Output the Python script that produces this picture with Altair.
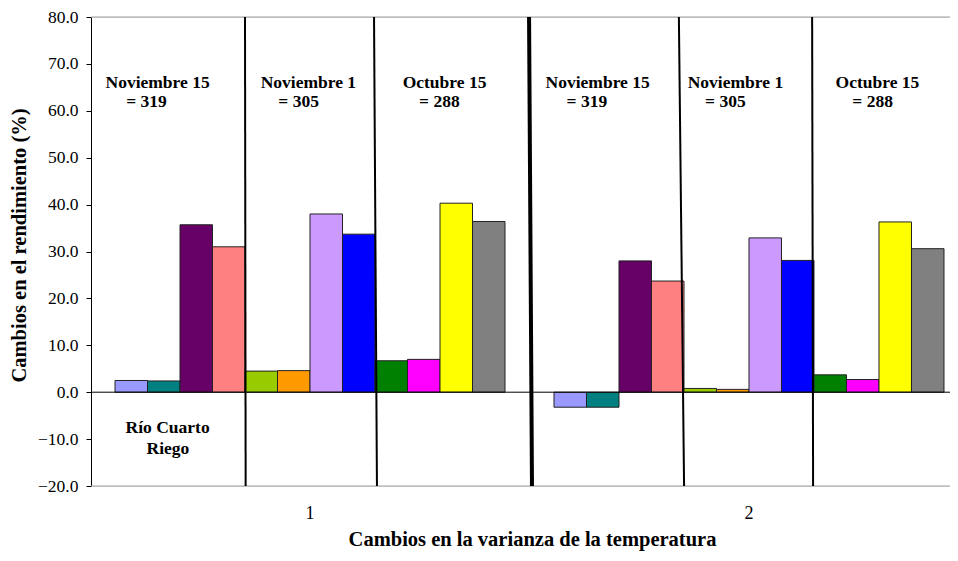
import altair as alt
import pandas as pd

# ---------------- data ----------------
groups = ["1", "2"]
series = [f"Serie {i}" for i in range(1, 13)]
colors = ["#9999FF", "#008080", "#660066", "#FF8080", "#99CC00", "#FF9900",
          "#CC99FF", "#0000FF", "#008000", "#FF00FF", "#FFFF00", "#808080"]
values_g1 = [2.5, 2.4, 35.7, 31.0, 4.5, 4.6, 38.0, 33.7, 6.7, 7.0, 40.3, 36.4]
values_g2 = [-3.2, -3.2, 28.0, 23.7, 0.8, 0.6, 32.9, 28.1, 3.7, 2.7, 36.3, 30.6]

# annotations (x in bar-slot units: slot 0 = first bar of group 1)
note_text = ["Noviembre 15", "= 319", "Noviembre 1", "= 305", "Octubre 15", "= 288",
             "Noviembre 15", "= 319", "Noviembre 1", "= 305", "Octubre 15", "= 288",
             "Río Cuarto", "Riego"]
note_x = [1.31, 0.97, 5.95, 5.65, 10.14, 9.98,
          14.85, 14.52, 19.09, 18.78, 23.46, 23.31,
          1.62, 1.63]
note_y = [65.9, 61.9, 65.9, 61.9, 65.9, 61.9,
          65.9, 61.9, 65.9, 61.9, 65.9, 61.9,
          -7.6, -12.2]

divider_x_top = [4.0, 7.97, 12.74, 17.35, 21.45]
divider_x_bottom = [4.02, 8.06, 12.83, 17.51, 21.48]
divider_weight = ["thin", "thin", "thick", "thin", "thin"]
divider_y_top = 80
divider_y_bottom = -20

y_min, y_max = -20, 80
y_ticks = list(range(-20, 81, 10))
slot_domain = [-0.7385, 25.692]

FONT = "'Liberation Serif', 'Times New Roman', 'DejaVu Serif', serif"

# ---------------- tables ----------------
rows = []
for g, vals in zip(groups, [values_g1, values_g2]):
    for s, v in zip(series, vals):
        rows.append({"grupo": g, "serie": s, "valor": v})
bars_df = pd.DataFrame(rows)

notes_df = pd.DataFrame({"texto": note_text, "x": note_x, "y": note_y})
div_df = pd.DataFrame({"x": divider_x_top, "x2": divider_x_bottom,
                       "y": [divider_y_top] * 5, "y2": [divider_y_bottom] * 5,
                       "peso": divider_weight})
border_df = pd.DataFrame({"y": [y_max, y_min]})
zero_df = pd.DataFrame({"y": [0]})

yscale = alt.Scale(domain=[y_min, y_max], nice=False, zero=False)
xslot = alt.Scale(domain=slot_domain, nice=False, zero=False)

y_axis = alt.Axis(title="Cambios en el rendimiento (%)", values=y_ticks,
                  format=".1f", grid=False, domainColor="black",
                  tickColor="black", tickSize=5, labelPadding=8,
                  titlePadding=8, titleY=228, labelFont=FONT, labelFontSize=17.5,
                  labelColor="black", titleFont=FONT, titleFontSize=20.5,
                  titleFontWeight="bold", titleColor="black")

bars = alt.Chart(bars_df).mark_bar(stroke="#222222", strokeWidth=1).encode(
    x=alt.X("grupo:N",
            scale=alt.Scale(paddingInner=0.1116, paddingOuter=0.03417, align=0.8),
            axis=alt.Axis(title="Cambios en la varianza de la temperatura",
                          labelAngle=0, domain=False, ticks=False, tickSize=0,
                          labelPadding=18, titlePadding=7, titleX=441,
                          labelFont=FONT, labelFontSize=18, labelColor="black",
                          titleFont=FONT, titleFontSize=20.5, titleFontWeight="bold",
                          titleColor="black")),
    xOffset=alt.XOffset("serie:N", sort=series,
                        scale=alt.Scale(paddingInner=0, paddingOuter=0)),
    y=alt.Y("valor:Q", scale=yscale, axis=y_axis),
    color=alt.Color("serie:N", sort=series,
                    scale=alt.Scale(domain=series, range=colors), legend=None),
)

borders = alt.Chart(border_df).mark_rule(color="#a0a0a0", strokeWidth=1).encode(
    y=alt.Y("y:Q", scale=yscale, axis=y_axis)
)
zero_line = alt.Chart(zero_df).mark_rule(color="black", strokeWidth=1).encode(
    y=alt.Y("y:Q", scale=yscale, axis=y_axis)
)

dividers = alt.Chart(div_df).mark_rule(color="black").encode(
    x=alt.X("x:Q", scale=xslot, axis=None),
    x2="x2:Q",
    y=alt.Y("y:Q", scale=yscale, axis=y_axis),
    y2="y2:Q",
    strokeWidth=alt.StrokeWidth("peso:N",
                                scale=alt.Scale(domain=["thin", "thick"], range=[2, 4]),
                                legend=None),
)

notes = alt.Chart(notes_df).mark_text(font=FONT, fontSize=17.5, fontWeight="bold",
                                      color="black", align="center",
                                      baseline="middle").encode(
    x=alt.X("x:Q", scale=xslot, axis=None),
    y=alt.Y("y:Q", scale=yscale, axis=y_axis),
    text="texto:N",
)

chart = alt.layer(bars, borders, zero_line, dividers, notes).resolve_scale(
    x="independent"
).properties(
    width=859, height=469,
    autosize=alt.AutoSizeParams(type="none"),
    padding={"left": 83, "top": 9, "right": 0, "bottom": 67},
).configure_view(stroke=None).configure(background="white")

chart.save("out.html", embed_options={"renderer": "svg", "actions": False})
